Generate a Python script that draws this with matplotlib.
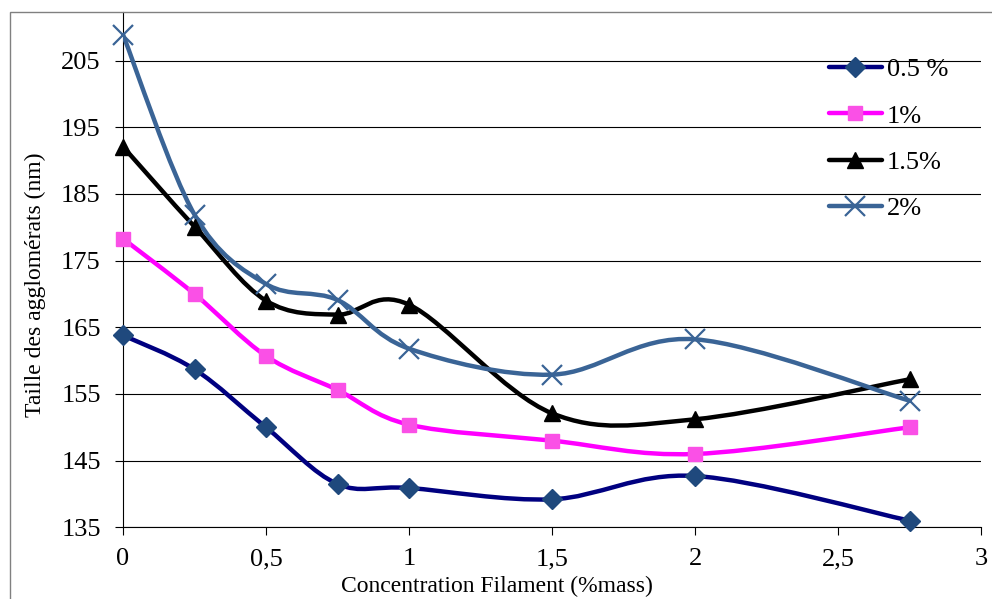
import matplotlib
matplotlib.use('Agg')
import matplotlib.pyplot as plt
from matplotlib.path import Path
from matplotlib.patches import PathPatch, Rectangle
from matplotlib.lines import Line2D

plt.rcParams['font.family'] = 'Liberation Serif'

# filament concentration (%mass)
conc = [0, 0.25, 0.5, 0.75, 1, 1.5, 2, 2.75]

# agglomerate size (nm) for each series
size_05 = [163.8, 158.7, 150.0, 141.5, 140.9, 139.2, 142.7, 136.0]
size_1 = [178.3, 170.0, 160.7, 155.6, 150.4, 148.0, 146.0, 150.0]
size_15 = [192.1, 180.1, 169.0, 166.9, 168.4, 152.1, 151.2, 157.2]
size_2 = [208.9, 181.9, 171.5, 169.1, 161.8, 157.9, 163.2, 154.0]

labels = ['0.5 %', '1%', '1.5%', '2%']
x_ticks = [0, 0.5, 1, 1.5, 2, 2.5, 3]
x_ticklabels = ['0', '0,5', '1', '1,5', '2', '2,5', '3']
y_ticks = [135, 145, 155, 165, 175, 185, 195, 205]


def smooth_path(xs, ys):
    # excel-like smoothed line: catmull-rom as cubic bezier segments
    pts = list(zip(xs, ys))
    n = len(pts)
    verts = [pts[0]]
    codes = [Path.MOVETO]
    for i in range(n - 1):
        p0 = pts[i - 1] if i > 0 else pts[i]
        p1 = pts[i]
        p2 = pts[i + 1]
        p3 = pts[i + 2] if i + 2 < n else pts[i + 1]
        c1 = (p1[0] + (p2[0] - p0[0]) / 6, p1[1] + (p2[1] - p0[1]) / 6)
        c2 = (p2[0] - (p3[0] - p1[0]) / 6, p2[1] - (p3[1] - p1[1]) / 6)
        verts += [c1, c2, p2]
        codes += [Path.CURVE4] * 3
    return Path(verts, codes)


fig = plt.figure(figsize=(9.92, 5.99), dpi=100)
ax = fig.add_axes([123 / 992, 1 - 527.3 / 599, (981 - 123) / 992, (527.3 - 12) / 599])

series = [
    (size_05, '#000080', 'D', '#1F497D', '#1F497D', 10, 1),
    (size_1, '#FF00FF', 's', '#FA50E6', '#FA50E6', 10, 1),
    (size_15, '#000000', '^', '#000000', '#000000', 11, 1),
    (size_2, '#3A6496', 'x', '#3A6496', '#3A6496', 14, 1.6),
]

handles = []
for (ys, lc, mk, mfc, mec, ms, mew), lab in zip(series, labels):
    patch = PathPatch(smooth_path(conc, ys), facecolor='none', edgecolor=lc,
                      lw=3.2, capstyle='round', joinstyle='round', zorder=3)
    ax.add_patch(patch)
    ax.plot(conc, ys, linestyle='none', marker=mk, markersize=ms,
            markerfacecolor=mfc, markeredgecolor=mec, markeredgewidth=mew, zorder=4,
            clip_on=False)
    handles.append(Line2D([0], [0], color=lc, lw=3.2, solid_capstyle='round',
                          marker=mk, markersize=ms, markerfacecolor=mfc,
                          markeredgecolor=mec, markeredgewidth=mew, label=lab))

ax.set_xlim(0, 3)
ax.set_ylim(135, 212.3)
ax.set_xticks(x_ticks)
ax.set_xticklabels(x_ticklabels)
ax.set_yticks(y_ticks)
ax.tick_params(direction='out', length=6, width=0.8, labelsize=19)
ax.tick_params(axis='x', pad=9)
ax.tick_params(axis='y', pad=10)
ax.yaxis.grid(True, color='black', lw=0.8)
ax.set_axisbelow(True)
for side in ['top', 'right']:
    ax.spines[side].set_visible(False)
ax.spines['left'].set_linewidth(0.8)
ax.spines['bottom'].set_linewidth(0.8)

fig.text(497 / 992, 1 - 586 / 599, 'Concentration Filament (%mass)', ha='center',
         va='center', fontsize=17)
fig.text(35 / 992, 1 - 285 / 599, 'Taille des agglomérats (nm)', ha='center',
         va='center', rotation=90, fontsize=17)

leg = fig.legend(handles=handles, loc='upper left', bbox_to_anchor=(829 / 992, 1 - 58 / 599),
                 frameon=False, fontsize=19, handlelength=2.0, handletextpad=0.2,
                 labelspacing=0.86, borderaxespad=0, borderpad=0)

# outer chart border (right and bottom edges fall outside the image)
fig.patches.append(Rectangle((10 / 992, -0.1), 1.2, 1 - 12 / 599 + 0.1,
                             transform=fig.transFigure, fill=False,
                             edgecolor='#808080', lw=1))

fig.savefig('out.png', dpi=100)
